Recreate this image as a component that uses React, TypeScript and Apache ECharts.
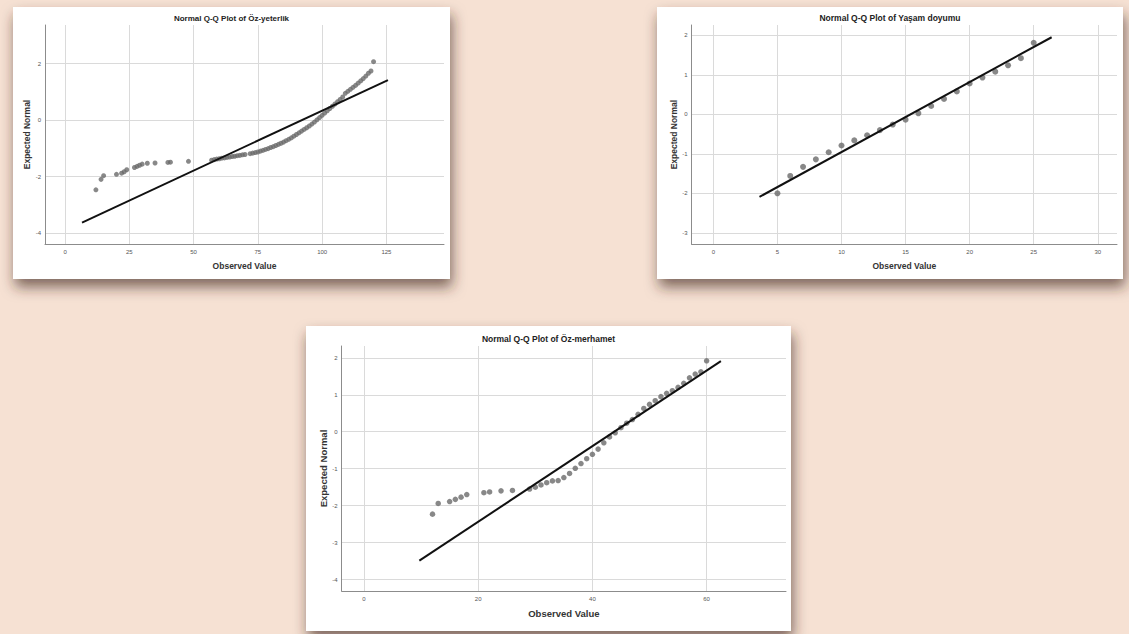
import React, { useEffect, useRef } from "react";
import * as echarts from "echarts";

// Panel 1: Öz-yeterlik
const yeterlikObserved = [12, 14, 15, 20, 22, 23, 24, 27, 28, 29, 30, 32, 35, 40, 41, 48, 57, 58, 59, 60, 61, 62, 63, 64, 65, 66, 67, 68, 69, 70, 72, 73, 74, 75, 76, 77, 78, 79, 80, 81, 82, 83, 84, 85, 86, 87, 88, 89, 90, 91, 92, 93, 94, 95, 96, 97, 98, 99, 100, 101, 102, 103, 104, 105, 106, 107, 108, 109, 110, 111, 112, 113, 114, 115, 116, 117, 118, 119, 120];
const yeterlikExpected = [-2.47, -2.1, -1.97, -1.92, -1.88, -1.83, -1.76, -1.68, -1.64, -1.6, -1.56, -1.53, -1.52, -1.5, -1.49, -1.46, -1.42, -1.4, -1.38, -1.37, -1.35, -1.34, -1.32, -1.31, -1.29, -1.28, -1.26, -1.25, -1.23, -1.22, -1.19, -1.17, -1.15, -1.13, -1.1, -1.07, -1.04, -1.01, -0.97, -0.94, -0.9, -0.86, -0.82, -0.78, -0.73, -0.68, -0.63, -0.57, -0.51, -0.45, -0.39, -0.33, -0.27, -0.21, -0.14, -0.07, 0.01, 0.09, 0.17, 0.25, 0.33, 0.41, 0.49, 0.57, 0.65, 0.73, 0.82, 0.95, 1.02, 1.09, 1.16, 1.23, 1.31, 1.39, 1.47, 1.56, 1.66, 1.74, 2.07];
const yeterlikLineX = [6.6, 125.6];
const yeterlikLineY = [-3.63, 1.42];
const yeterlikXTicks = [0, 25, 50, 75, 100, 125];
const yeterlikYTicks = [-4, -2, 0, 2];

// Panel 2: Yaşam doyumu
const doyumObserved = [5, 6, 7, 8, 9, 10, 11, 12, 13, 14, 15, 16, 17, 18, 19, 20, 21, 22, 23, 24, 25];
const doyumExpected = [-2.0, -1.56, -1.33, -1.14, -0.96, -0.79, -0.66, -0.53, -0.4, -0.26, -0.135, 0.025, 0.21, 0.39, 0.58, 0.78, 0.93, 1.08, 1.24, 1.42, 1.81];
const doyumLineX = [3.6, 26.4];
const doyumLineY = [-2.09, 1.95];
const doyumXTicks = [0, 5, 10, 15, 20, 25, 30];
const doyumYTicks = [-3, -2, -1, 0, 1, 2];

// Panel 3: Öz-merhamet
const merhametObserved = [12, 13, 15, 16, 17, 18, 21, 22, 24, 26, 29, 30, 31, 32, 33, 34, 35, 36, 37, 38, 39, 40, 41, 42, 43, 44, 45, 46, 47, 48, 49, 50, 51, 52, 53, 54, 55, 56, 57, 58, 59, 60];
const merhametExpected = [-2.23, -1.94, -1.89, -1.83, -1.77, -1.7, -1.65, -1.63, -1.6, -1.59, -1.55, -1.5, -1.44, -1.38, -1.33, -1.32, -1.24, -1.13, -0.99, -0.86, -0.73, -0.61, -0.47, -0.3, -0.14, -0.03, 0.11, 0.23, 0.33, 0.47, 0.63, 0.74, 0.84, 0.95, 1.04, 1.11, 1.2, 1.31, 1.46, 1.56, 1.62, 1.92];
const merhametLineX = [9.7, 62.5];
const merhametLineY = [-3.49, 1.91];
const merhametXTicks = [0, 20, 40, 60];
const merhametYTicks = [-4, -3, -2, -1, 0, 1, 2];

const titles = ["Normal Q-Q Plot of Öz-yeterlik", "Normal Q-Q Plot of Yaşam doyumu", "Normal Q-Q Plot of Öz-merhamet"];
const xName = "Observed Value";
const yName = "Expected Normal";

const FONT = "Liberation Sans, Arial, sans-serif";

function pairs(xs: number[], ys: number[]) {
  return xs.map((x, i) => [x, ys[i]]);
}

export default function App() {
  const ref = useRef<HTMLDivElement>(null);
  useEffect(() => {
    if (!ref.current) return;
    const chart = echarts.init(ref.current, null, { renderer: "svg" });

    const panels = [
      { box: [13, 7, 437, 272], grid: [45, 25, 399, 219], xr: [-7.8, 147.4], yr: [-4.39, 3.37], xt: yeterlikXTicks, yt: yeterlikYTicks, obs: yeterlikObserved, exp: yeterlikExpected, lx: yeterlikLineX, ly: yeterlikLineY, sym: 5, tfs: 8, nfs: 8.5 },
      { box: [657, 7, 466, 272], grid: [691.7, 25, 425.3, 219.3], xr: [-1.69, 31.5], yr: [-3.29, 2.26], xt: doyumXTicks, yt: doyumYTicks, obs: doyumObserved, exp: doyumExpected, lx: doyumLineX, ly: doyumLineY, sym: 6, tfs: 8.5, nfs: 8.5 },
      { box: [306, 326, 485, 305], grid: [341.7, 346, 444.3, 245], xr: [-3.9, 73.9], yr: [-4.31, 2.32], xt: merhametXTicks, yt: merhametYTicks, obs: merhametObserved, exp: merhametExpected, lx: merhametLineX, ly: merhametLineY, sym: 5.5, tfs: 8.5, nfs: 9.5 },
    ];

    const graphic: any[] = [];
    const grid: any[] = [];
    const xAxis: any[] = [];
    const yAxis: any[] = [];
    const series: any[] = [];

    panels.forEach((p, i) => {
      const [bx, by, bw, bh] = p.box;
      const [gl, gt, gw, gh] = p.grid;
      graphic.push({
        type: "rect",
        z: -100,
        shape: { x: bx, y: by, width: bw, height: bh },
        style: { fill: "#ffffff", shadowBlur: 14, shadowOffsetX: 2, shadowOffsetY: 8, shadowColor: "rgba(60,40,30,0.65)" },
      });
      graphic.push({
        type: "text",
        z: 100,
        x: bx + bw / 2,
        y: gt - 7,
        style: { text: titles[i], align: "center", verticalAlign: "middle", fill: "#222", font: `bold ${p.tfs}px ${FONT}` },
      });
      graphic.push({
        type: "text",
        z: 100,
        x: gl + gw / 2,
        y: gt + gh + 22,
        style: { text: xName, align: "center", verticalAlign: "middle", fill: "#333", font: `bold ${p.nfs}px ${FONT}` },
      });
      graphic.push({
        type: "text",
        z: 100,
        x: gl - 18,
        y: gt + gh / 2,
        rotation: Math.PI / 2,
        style: { text: yName, align: "center", verticalAlign: "middle", fill: "#333", font: `bold ${p.nfs}px ${FONT}` },
      });

      grid.push({ left: gl, top: gt, width: gw, height: gh, containLabel: false });
      xAxis.push({
        type: "value",
        gridIndex: i,
        min: p.xr[0],
        max: p.xr[1],
        axisLine: { show: true, onZero: false, lineStyle: { color: "#8c8c8c", width: 1 } },
        axisTick: { show: false, customValues: p.xt },
        axisLabel: { customValues: p.xt, fontSize: 6, color: "#555", margin: 5, fontFamily: FONT },
        splitLine: { show: true, lineStyle: { color: "#dadada", width: 1 } },
      });
      yAxis.push({
        type: "value",
        gridIndex: i,
        min: p.yr[0],
        max: p.yr[1],
        axisLine: { show: true, onZero: false, lineStyle: { color: "#8c8c8c", width: 1 } },
        axisTick: { show: false, customValues: p.yt },
        axisLabel: { customValues: p.yt, fontSize: 6, color: "#555", margin: 4, fontFamily: FONT },
        splitLine: { show: true, lineStyle: { color: "#dadada", width: 1 } },
      });
      series.push({
        type: "scatter",
        xAxisIndex: i,
        yAxisIndex: i,
        data: pairs(p.obs, p.exp),
        symbolSize: p.sym,
        itemStyle: { color: "#6a6a6a" },
        z: 3,
      });
      series.push({
        type: "line",
        xAxisIndex: i,
        yAxisIndex: i,
        data: pairs(p.lx, p.ly),
        symbol: "none",
        lineStyle: { color: "#111", width: 2 },
        z: 4,
      });
    });

    chart.setOption({
      animation: false,
      backgroundColor: "#f6e1d3",
      grid,
      xAxis,
      yAxis,
      series,
      graphic,
    });
    return () => chart.dispose();
  }, []);

  return (
    <div style={{ position: "fixed", left: 0, top: 0, width: 1129, height: 634 }}>
      <div ref={ref} style={{ width: 1129, height: 634 }} />
    </div>
  );
}
